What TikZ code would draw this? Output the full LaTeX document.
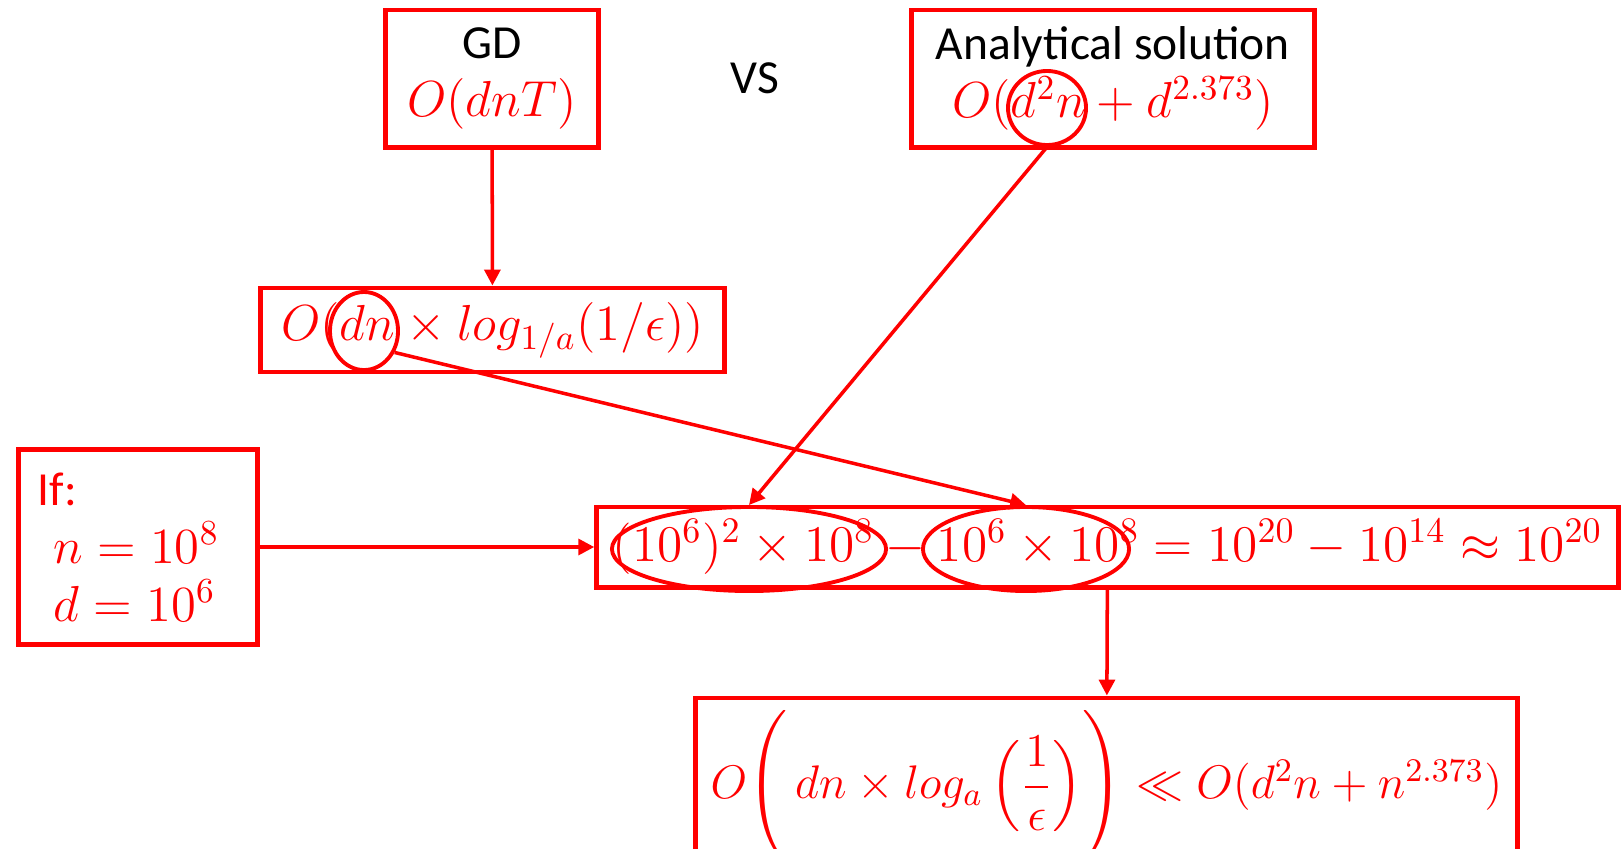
\RequirePackage{fix-cm}
\documentclass[tikz,border=0pt]{standalone}
\usepackage{amsmath}
\usepackage[no-math]{fontspec}
\setmainfont{Carlito}
\usetikzlibrary{shapes.geometric, arrows.meta}
\newcommand{\redm}[2][14.4]{{\fontsize{#1}{17}\selectfont\color{red}$#2$}}

\begin{document}
\begin{tikzpicture}[
	x=0.01cm, y=-0.01cm,
	box/.style={rectangle, draw=red, line width=1.4pt, align=center, inner sep=0pt, font=\fontsize{13.5}{16.5}\selectfont},
	ring/.style={ellipse, draw=red, line width=1.1pt, inner sep=0pt},
	arrow/.style={-{Triangle[length=4.5pt, width=4.5pt]}, draw=red, line width=1pt}
	]
	\useasboundingbox (0,0) rectangle (1622,848);
	\node (gd) [box, minimum width=2.12cm, minimum height=1.37cm] at (492,78.5) {GD\\\redm{O(dnT)}};
	\node (vs) [font=\fontsize{13.5}{16.5}\selectfont] at (755,78) {VS};
	\node (ana) [box, minimum width=4.02cm, minimum height=1.37cm] at (1113,78.5) {Analytical solution\\\redm{O(d^2n + d^{2.373})}};
	
	\node (logb) [box, minimum width=4.63cm, minimum height=0.84cm] at (492.5,330) {\redm{O(dn \times log_{1/a}(1/\epsilon))}};
	
	\node (ifb) [box, align=left, text width=2.0cm, minimum width=2.38cm, minimum height=1.94cm] at (138,547)
		{{\color{red}If:}\\\hspace*{0.16cm}\redm{n = 10^8}\\\hspace*{0.16cm}\redm{d = 10^6}};
	\node (mid) [box, minimum width=10.21cm, minimum height=0.8cm] at (1107.5,547)
		{\redm[14.6]{(10^6)^2 \times 10^8 - 10^6 \times 10^8 = 10^{20} - 10^{14} \approx 10^{20}}};
	
	\node (res) [box, minimum width=8.21cm, minimum height=1.77cm] at (1106.5,786.5)
		{\redm[13.4]{O\Biggl(\, dn \times log_a\left(\dfrac{1}{\epsilon}\right)\Biggr) \ll O(d^2n + n^{2.373})}};
	
	% circled terms
	\node (anc) [ring, minimum width=0.78cm, minimum height=0.74cm] at (1047,108) {};
	\node (dnc) [ring, minimum width=0.68cm, minimum height=0.78cm] at (364,331) {};
	\node (e1) [ring, minimum width=2.74cm, minimum height=0.84cm] at (749,549) {};
	\node (e2) [ring, minimum width=2.06cm, minimum height=0.84cm] at (1026,549) {};
	
	\draw [arrow] (gd) -- (logb);
	\draw [arrow] (anc.south) -- (e1.north);
	\draw [arrow] (dnc.-35) -- (e2.north);
	\draw [arrow] (ifb) -- (mid);
	\draw [arrow] (mid) -- (res);
\end{tikzpicture}
\end{document}
